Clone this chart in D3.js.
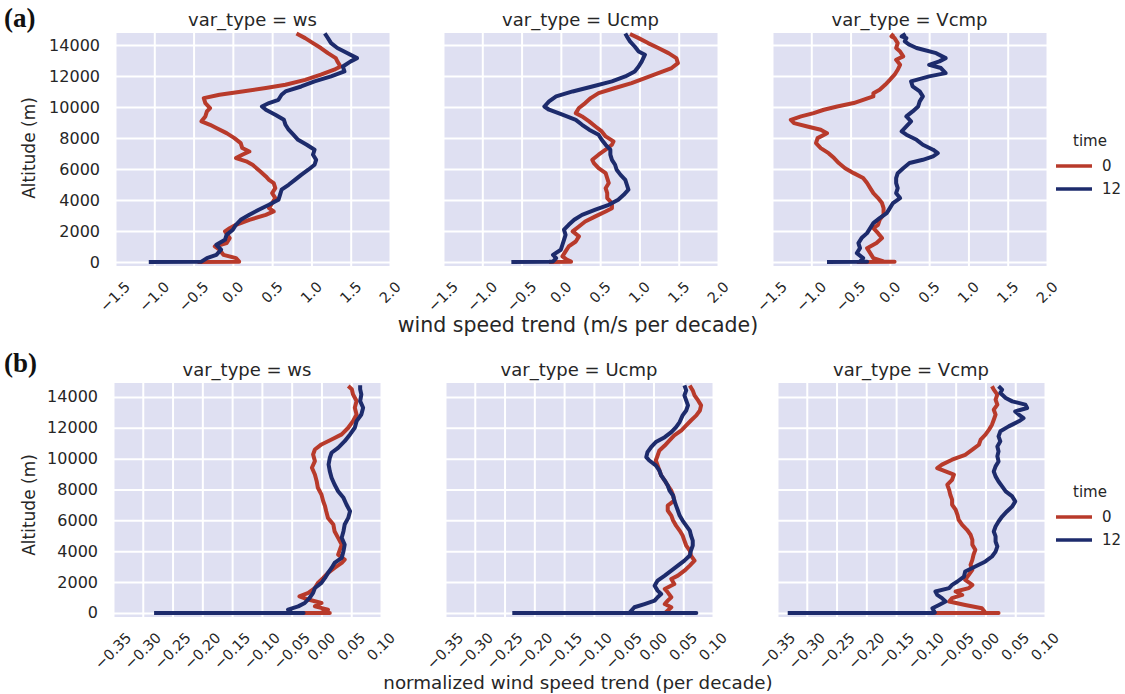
<!DOCTYPE html>
<html><head><meta charset="utf-8">
<script src="https://cdn.jsdelivr.net/npm/d3@7"></script>
<style>
body{margin:0;background:#fff;}
svg{display:block;font-family:"DejaVu Sans",sans-serif;}
</style></head><body>
<svg id="chart" width="1125" height="694"></svg>
<script>
// ---------- DATA: [altitude (m), trend] ----------
const timeLevels = ["0", "12"];
const facetNames = ["ws", "Ucmp", "Vcmp"];
const xTicksA = [-1.5, -1.0, -0.5, 0.0, 0.5, 1.0, 1.5, 2.0];
const xTicksB = [-0.35, -0.30, -0.25, -0.20, -0.15, -0.10, -0.05, 0.00, 0.05, 0.10];
const yTicks = [0, 2000, 4000, 6000, 8000, 10000, 12000, 14000];

// (a) wind speed trend (m/s per decade)
const wsA_t0 = [[0,-0.45],[30,0.08],[260,0.04],[470,-0.12],[800,-0.17],[1010,-0.23],[1230,-0.08],[1550,-0.04],[1980,-0.10],[2190,-0.04],[2410,0.04],[2730,0.21],[3050,0.42],[3270,0.52],[3480,0.46],[3810,0.50],[4130,0.54],[4450,0.50],[4770,0.54],[5100,0.52],[5310,0.46],[5530,0.42],[5850,0.35],[6280,0.25],[6500,0.17],[6710,0.04],[6930,0.12],[7140,0.21],[7360,0.12],[7680,0.10],[8000,0.02],[8320,-0.08],[8650,-0.21],[8860,-0.29],[9080,-0.40],[9400,-0.35],[9720,-0.33],[9940,-0.29],[10260,-0.35],[10580,-0.37],[10800,-0.17],[11010,0.12],[11230,0.42],[11440,0.67],[11760,0.92],[12090,1.12],[12410,1.29],[12620,1.37],[12950,1.33],[13160,1.31],[13480,1.21],[13810,1.12],[14130,1.02],[14450,0.92],[14750,0.81]];
const wsA_t12 = [[0,-1.07],[30,-0.40],[260,-0.33],[470,-0.21],[800,-0.15],[1120,-0.21],[1440,-0.10],[1760,-0.08],[2090,0.0],[2410,0.04],[2730,0.10],[3050,0.21],[3380,0.33],[3700,0.46],[4020,0.58],[4340,0.60],[4670,0.62],[4990,0.71],[5310,0.79],[5630,0.87],[5960,0.96],[6280,1.04],[6600,1.06],[6930,1.02],[7250,1.04],[7570,0.94],[7890,0.83],[8220,0.77],[8540,0.71],[8860,0.67],[9180,0.65],[9510,0.54],[9830,0.42],[10040,0.37],[10260,0.46],[10470,0.58],[10800,0.62],[11010,0.67],[11330,0.87],[11660,1.04],[11980,1.25],[12300,1.42],[12620,1.40],[12950,1.50],[13160,1.58],[13480,1.46],[13810,1.33],[14130,1.25],[14450,1.21],[14750,1.17]];
const ucA_t0 = [[0,-0.15],[30,0.13],[150,0.08],[370,0.02],[690,0.06],[1010,0.10],[1330,0.19],[1660,0.23],[1980,0.15],[2300,0.23],[2620,0.31],[2950,0.44],[3270,0.57],[3480,0.65],[3810,0.65],[4130,0.59],[4450,0.59],[4770,0.57],[5100,0.61],[5420,0.59],[5740,0.57],[6060,0.48],[6390,0.42],[6600,0.40],[6930,0.48],[7250,0.57],[7570,0.65],[7790,0.67],[8110,0.57],[8430,0.52],[8750,0.44],[9080,0.36],[9400,0.27],[9610,0.19],[9940,0.23],[10260,0.31],[10580,0.38],[10900,0.48],[11230,0.69],[11550,0.90],[11870,1.07],[12190,1.24],[12520,1.41],[12840,1.49],[13160,1.47],[13480,1.37],[13810,1.24],[14130,1.11],[14450,0.99],[14720,0.88]];
const ucA_t12 = [[0,-0.63],[20,-0.15],[40,-0.10],[260,-0.06],[470,-0.10],[800,0.0],[1120,0.02],[1440,0.04],[1760,0.06],[2090,0.04],[2410,0.10],[2730,0.17],[3050,0.27],[3380,0.44],[3700,0.61],[4020,0.73],[4340,0.80],[4670,0.86],[4990,0.84],[5310,0.82],[5630,0.76],[5960,0.71],[6280,0.69],[6600,0.65],[6930,0.63],[7250,0.63],[7570,0.57],[7890,0.52],[8220,0.48],[8540,0.36],[8860,0.27],[9180,0.19],[9510,0.02],[9830,-0.15],[10040,-0.21],[10370,-0.15],[10690,-0.06],[11010,0.15],[11330,0.40],[11660,0.65],[11980,0.82],[12300,0.94],[12620,0.99],[12950,1.03],[13380,1.07],[13590,0.99],[13910,0.94],[14240,0.88],[14560,0.84],[14750,0.82]];
const vcA_t0 = [[0,-0.42],[20,0.06],[40,-0.08],[260,-0.21],[580,-0.25],[900,-0.29],[1230,-0.17],[1550,-0.10],[1870,-0.15],[2190,-0.21],[2410,-0.15],[2730,-0.13],[3050,-0.08],[3480,-0.08],[3810,-0.10],[4130,-0.15],[4450,-0.21],[4770,-0.25],[5100,-0.29],[5420,-0.34],[5740,-0.46],[6060,-0.57],[6390,-0.65],[6710,-0.71],[7030,-0.78],[7350,-0.88],[7680,-0.94],[8000,-0.92],[8320,-0.80],[8540,-0.88],[8750,-1.05],[8970,-1.22],[9180,-1.26],[9400,-1.13],[9610,-0.97],[9830,-0.84],[10040,-0.67],[10260,-0.46],[10470,-0.34],[10690,-0.21],[10900,-0.21],[11120,-0.13],[11440,-0.06],[11760,0.0],[12090,0.06],[12410,0.10],[12730,0.13],[13050,0.08],[13270,0.17],[13590,0.13],[13810,0.08],[14130,0.10],[14450,0.06],[14560,0.02],[14720,0.05]];
const vcA_t12 = [[0,-0.80],[20,-0.29],[40,-0.38],[260,-0.34],[580,-0.42],[900,-0.38],[1230,-0.40],[1550,-0.36],[1870,-0.29],[2190,-0.25],[2520,-0.21],[2840,-0.13],[3160,-0.04],[3480,0.0],[3810,0.04],[4130,0.13],[4450,0.08],[4770,0.10],[5100,0.08],[5420,0.08],[5740,0.10],[6060,0.17],[6390,0.25],[6600,0.42],[6820,0.55],[7030,0.61],[7250,0.55],[7570,0.42],[7890,0.34],[8220,0.21],[8430,0.15],[8750,0.21],[9080,0.27],[9400,0.21],[9720,0.29],[10040,0.36],[10370,0.38],[10690,0.42],[11010,0.38],[11330,0.29],[11660,0.27],[11980,0.50],[12190,0.71],[12520,0.65],[12730,0.50],[12950,0.63],[13160,0.71],[13480,0.59],[13810,0.34],[14020,0.25],[14240,0.19],[14450,0.21],[14560,0.15],[14720,0.20]];

// (b) normalized wind speed trend (per decade)
const wsB_t0 = [[0,-0.09],[0,0.014],[20,0.0],[220,0.011],[430,-0.011],[650,0.0],[870,-0.022],[1080,-0.037],[1300,-0.022],[1620,-0.011],[1950,-0.006],[2270,0.003],[2590,0.011],[2920,0.022],[3240,0.034],[3460,0.039],[3780,0.028],[4110,0.031],[4430,0.034],[4870,0.028],[5300,0.022],[5730,0.020],[6160,0.011],[6590,0.008],[6920,0.006],[7240,0.003],[7680,0.0],[8110,-0.006],[8540,-0.008],[8970,-0.011],[9410,-0.016],[9840,-0.011],[10270,-0.014],[10590,-0.011],[10920,0.0],[11240,0.017],[11570,0.034],[12000,0.045],[12430,0.053],[12860,0.059],[13300,0.056],[13730,0.059],[14160,0.053],[14490,0.051],[14700,0.045]];
const wsB_t12 = [[0,-0.281],[0,-0.03],[20,-0.05],[220,-0.056],[430,-0.039],[650,-0.028],[970,-0.020],[1300,-0.014],[1620,-0.011],[1950,0.0],[2270,0.006],[2590,0.011],[2920,0.017],[3240,0.022],[3570,0.034],[4000,0.037],[4430,0.039],[4870,0.034],[5300,0.037],[5730,0.039],[6160,0.045],[6590,0.048],[7030,0.042],[7460,0.037],[7890,0.028],[8320,0.022],[8760,0.017],[9190,0.014],[9620,0.012],[10050,0.014],[10380,0.017],[10700,0.028],[11130,0.039],[11570,0.048],[12000,0.056],[12430,0.059],[12860,0.067],[13300,0.070],[13730,0.065],[14160,0.067],[14490,0.065],[14750,0.065]];
const ucB_t0 = [[0,-0.049],[0,0.03],[20,0.02],[370,0.030],[580,0.019],[800,0.024],[1020,0.030],[1340,0.024],[1560,0.019],[1880,0.035],[2200,0.030],[2420,0.041],[2740,0.052],[3070,0.061],[3390,0.069],[3720,0.063],[4040,0.061],[4370,0.055],[4690,0.052],[5020,0.049],[5340,0.044],[5660,0.038],[5990,0.033],[6310,0.030],[6640,0.024],[6960,0.024],[7290,0.035],[7610,0.033],[7930,0.030],[8260,0.024],[8580,0.019],[8910,0.013],[9230,0.010],[9560,0.007],[9880,0.004],[10200,0.007],[10530,0.010],[10850,0.019],[11180,0.027],[11500,0.035],[11830,0.047],[12150,0.055],[12470,0.063],[12800,0.072],[13120,0.078],[13450,0.080],[13770,0.075],[14100,0.069],[14420,0.066],[14740,0.061]];
const ucB_t12 = [[0,-0.237],[0,0.072],[20,-0.04],[370,-0.032],[580,-0.015],[800,0.002],[1020,0.007],[1230,0.013],[1450,0.007],[1770,0.002],[2100,0.007],[2420,0.019],[2740,0.030],[3070,0.041],[3390,0.052],[3720,0.061],[4040,0.063],[4370,0.066],[4690,0.066],[5020,0.063],[5340,0.061],[5660,0.055],[5990,0.049],[6310,0.044],[6640,0.041],[6960,0.038],[7290,0.035],[7610,0.033],[7930,0.027],[8260,0.024],[8580,0.019],[8910,0.013],[9230,0.010],[9560,0.004],[9880,-0.007],[10100,-0.012],[10420,-0.010],[10740,-0.004],[11070,0.004],[11390,0.019],[11720,0.030],[12040,0.038],[12370,0.044],[12800,0.049],[13120,0.055],[13450,0.058],[13770,0.055],[14100,0.052],[14420,0.055],[14750,0.052]];
const vcB_t0 = [[0,-0.089],[0,0.022],[20,0.0],[310,-0.006],[520,-0.034],[740,-0.061],[960,-0.056],[1170,-0.039],[1390,-0.050],[1610,-0.028],[1820,-0.022],[2150,-0.034],[2470,-0.028],[2790,-0.022],[3120,-0.025],[3440,-0.022],[3770,-0.020],[4090,-0.017],[4420,-0.022],[4740,-0.022],[5070,-0.025],[5390,-0.031],[5710,-0.039],[6040,-0.045],[6360,-0.047],[6690,-0.050],[7010,-0.056],[7340,-0.056],[7660,-0.059],[7980,-0.061],[8310,-0.064],[8630,-0.056],[8960,-0.053],[9170,-0.067],[9390,-0.081],[9610,-0.073],[9930,-0.056],[10250,-0.034],[10580,-0.022],[10900,-0.011],[11230,-0.008],[11550,0.0],[11880,0.006],[12200,0.011],[12520,0.014],[12850,0.017],[13170,0.014],[13500,0.020],[13820,0.017],[14150,0.020],[14470,0.014],[14690,0.011]];
const vcB_t12 = [[0,-0.332],[0,-0.089],[20,-0.085],[310,-0.089],[520,-0.078],[740,-0.067],[960,-0.073],[1170,-0.081],[1390,-0.084],[1610,-0.061],[1820,-0.056],[2040,-0.047],[2360,-0.036],[2690,-0.034],[3010,-0.017],[3340,0.0],[3660,0.011],[3980,0.017],[4310,0.020],[4630,0.017],[4960,0.017],[5280,0.014],[5600,0.017],[5930,0.022],[6250,0.028],[6580,0.036],[6900,0.045],[7230,0.050],[7550,0.045],[7880,0.034],[8200,0.028],[8520,0.022],[8850,0.017],[9170,0.014],[9500,0.017],[9820,0.022],[10150,0.020],[10470,0.022],[10790,0.020],[11120,0.025],[11440,0.022],[11770,0.025],[12090,0.039],[12420,0.056],[12630,0.064],[12850,0.056],[13060,0.050],[13280,0.070],[13500,0.067],[13710,0.045],[13930,0.034],[14250,0.025],[14470,0.028],[14690,0.022]];

// ---------- LAYOUT ----------
const colors = {"0": "#b83a2b", "12": "#1d2b6c"};
const svg = d3.select("#chart");
const rows = [
  {tag: "(a)", tagY: 27, top: 33, bottom: 266, lefts: [115, 443, 772], width: 275,
   xDomain: [-1.5, 2.0], xTicks: xTicksA, fmt: d3.format(".1f"), yDomain: [-250, 14780],
   titleY: 26, xLabel: "wind speed trend (m/s per decade)", xLabelFs: 20.5, xLabelY: 332, yLabelY: 148,
   legendY: 146, series: [[wsA_t0, wsA_t12], [ucA_t0, ucA_t12], [vcA_t0, vcA_t12]]},
  {tag: "(b)", tagY: 372, top: 383, bottom: 617, lefts: [113, 445, 777], width: 268,
   xDomain: [-0.35, 0.10], xTicks: xTicksB, fmt: d3.format(".2f"), yDomain: [-260, 14900],
   titleY: 376, xLabel: "normalized wind speed trend (per decade)", xLabelFs: 18.3, xLabelY: 689, yLabelY: 505,
   legendY: 497, series: [[wsB_t0, wsB_t12], [ucB_t0, ucB_t12], [vcB_t0, vcB_t12]]}
];

const tickFs = 14.5;
rows.forEach(row => {
  const y = d3.scaleLinear().domain(row.yDomain).range([row.bottom, row.top]);
  row.lefts.forEach((left, pi) => {
    const x = d3.scaleLinear().domain(row.xDomain).range([left, left + row.width]);
    const g = svg.append("g");
    g.append("rect").attr("x", left).attr("y", row.top)
      .attr("width", row.width).attr("height", row.bottom - row.top)
      .attr("fill", "#dfe0f2");
    // grid
    g.append("g").attr("transform", `translate(0,${row.bottom})`)
      .call(d3.axisBottom(x).tickValues(row.xTicks).tickSize(-(row.bottom - row.top)).tickFormat(""))
      .call(a => a.select(".domain").remove())
      .call(a => a.selectAll("line").attr("stroke", "#fff").attr("stroke-width", 2));
    g.append("g").attr("transform", `translate(${left},0)`)
      .call(d3.axisLeft(y).tickValues(yTicks).tickSize(-row.width).tickFormat(""))
      .call(a => a.select(".domain").remove())
      .call(a => a.selectAll("line").attr("stroke", "#fff").attr("stroke-width", 2));
    // lines
    const line = d3.line().x(d => x(d[1])).y(d => y(d[0]));
    row.series[pi].forEach((s, si) => {
      g.append("path").datum(s).attr("d", line).attr("fill", "none")
        .attr("stroke", colors[timeLevels[si]]).attr("stroke-width", 4)
        .attr("stroke-linejoin", "round");
    });
    // x tick labels (rotated 45°, centered like matplotlib)
    row.xTicks.forEach(t => {
      const txt = g.append("text").text(row.fmt(t))
        .attr("font-size", tickFs).attr("fill", "#262626")
        .attr("text-anchor", "middle").attr("dominant-baseline", "central");
      const w = txt.node().getComputedTextLength();
      const half = 0.7071 * (w + tickFs * 1.0) / 2;
      txt.attr("transform", `translate(${x(t)},${row.bottom + 13 + half}) rotate(-45)`);
    });
    // title
    svg.append("text").attr("x", left + row.width / 2).attr("y", row.titleY)
      .attr("text-anchor", "middle").attr("font-size", 18).attr("fill", "#262626")
      .text("var_type = " + facetNames[pi]);
    // y tick labels on first panel
    if (pi === 0) {
      yTicks.forEach(t => {
        svg.append("text").attr("x", left - 15).attr("y", y(t))
          .attr("text-anchor", "end").attr("dominant-baseline", "central")
          .attr("font-size", 16).attr("fill", "#262626").text(d3.format("d")(t));
      });
    }
  });
  // axis labels
  svg.append("text").attr("x", 578).attr("y", row.xLabelY).attr("text-anchor", "middle")
    .attr("font-size", row.xLabelFs).attr("fill", "#262626").text(row.xLabel);
  svg.append("text").attr("transform", `translate(35,${row.yLabelY}) rotate(-90)`)
    .attr("text-anchor", "middle").attr("font-size", 17).attr("fill", "#262626").text("Altitude (m)");
  // panel tag
  svg.append("text").attr("x", 4).attr("y", row.tagY).attr("font-family", "'Liberation Serif', serif")
    .attr("font-weight", "bold").attr("font-size", 27).attr("fill", "#111").text(row.tag);
  // legend
  const lg = svg.append("g");
  lg.append("text").attr("x", 1090).attr("y", row.legendY).attr("text-anchor", "middle")
    .attr("font-size", 15).attr("fill", "#262626").text("time");
  timeLevels.forEach((lv, i) => {
    const yy = row.legendY + 20 + i * 23;
    lg.append("line").attr("x1", 1056).attr("x2", 1092).attr("y1", yy).attr("y2", yy)
      .attr("stroke", colors[lv]).attr("stroke-width", 3.5);
    lg.append("text").attr("x", 1102).attr("y", yy).attr("dominant-baseline", "central")
      .attr("font-size", 15).attr("fill", "#262626").text(lv);
  });
});
</script>
</body></html>
